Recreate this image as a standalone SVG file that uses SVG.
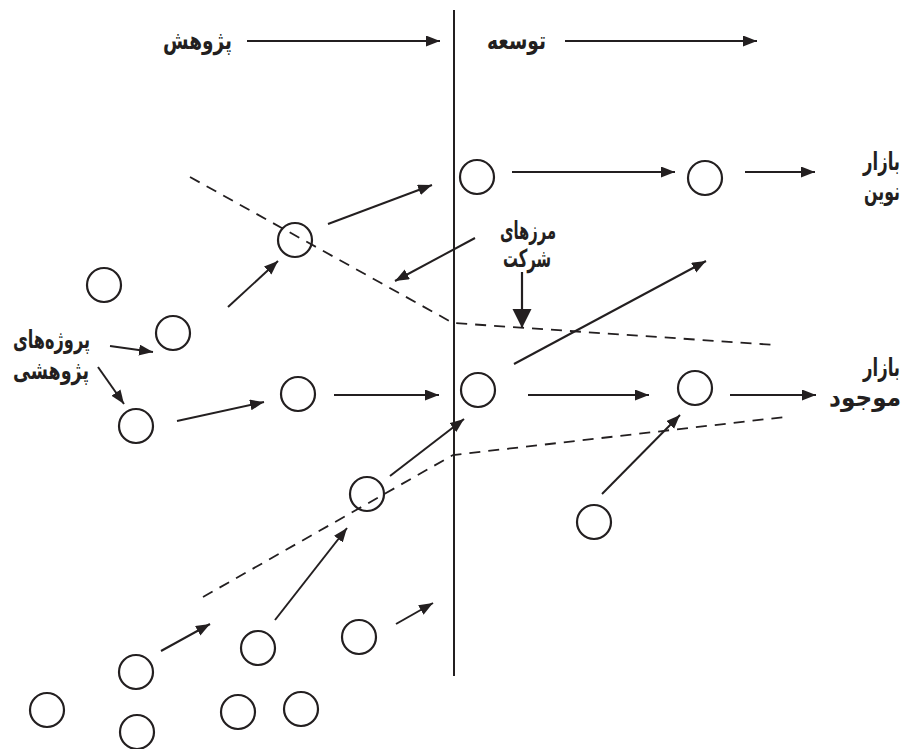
<svg xmlns="http://www.w3.org/2000/svg" width="915" height="749" viewBox="0 0 915 749">
  <style>
    .bg { fill: #ffffff; }
    .node { fill: none; stroke: #231f20; stroke-width: 2.2; }
    .arrow { fill: none; stroke: #231f20; stroke-width: 2; marker-end: url(#head); }
    .arrow-big { fill: none; stroke: #231f20; stroke-width: 2.2; marker-end: url(#head-big); }
    .rule { fill: none; stroke: #231f20; stroke-width: 2; }
    .boundary { fill: none; stroke: #231f20; stroke-width: 1.8; stroke-dasharray: 11 8; }
    .label { font-family: "DejaVu Sans", "Noto Sans", sans-serif; font-weight: bold; font-size: 25px; fill: #231f20; }
  </style>
  <defs>
    <marker id="head" markerUnits="userSpaceOnUse" markerWidth="15" markerHeight="12" refX="14" refY="5.5" orient="auto">
      <path d="M0,0 L14,5.5 L0,11 z" fill="#231f20"/>
    </marker>
    <marker id="head-big" markerUnits="userSpaceOnUse" markerWidth="20" markerHeight="20" refX="19" refY="9.5" orient="auto">
      <path d="M0,0 L19,9.5 L0,19 z" fill="#231f20"/>
    </marker>
  </defs>

  <rect class="bg" x="0" y="0" width="915" height="749"/>

  <!-- research / development divider and boundaries -->
  <g id="frame">
    <line class="rule" x1="454" y1="10" x2="454" y2="676"/>
    <polyline class="boundary" points="190,177 453,323 775,345"/>
    <polyline class="boundary" points="203,597 453,455 785,417"/>
  </g>

  <!-- labels -->
  <g id="labels" class="label">
    <text x="232" y="49" text-anchor="end" textLength="69" lengthAdjust="spacingAndGlyphs">پژوهش</text>
    <text x="546" y="49" text-anchor="end" textLength="59" lengthAdjust="spacingAndGlyphs">توسعه</text>
    <!-- market labels are condensed horizontally to fit the right margin -->
    <text transform="translate(900,170) scale(0.66,1)" x="0" y="0" text-anchor="end" textLength="56" lengthAdjust="spacingAndGlyphs">بازار</text>
    <text transform="translate(900,200) scale(0.63,1)" x="0" y="0" text-anchor="end" textLength="57" lengthAdjust="spacingAndGlyphs">نوین</text>
    <text transform="translate(900,376) scale(0.66,1)" x="0" y="0" text-anchor="end" textLength="56" lengthAdjust="spacingAndGlyphs">بازار</text>
    <text transform="translate(901,406) scale(0.91,1)" x="0" y="0" text-anchor="end" textLength="79" lengthAdjust="spacingAndGlyphs">موجود</text>
    <text x="528" y="239" text-anchor="middle" textLength="56" lengthAdjust="spacingAndGlyphs">مرزهای</text>
    <text x="527" y="267" text-anchor="middle" textLength="48" lengthAdjust="spacingAndGlyphs">شرکت</text>
    <text x="90" y="348" text-anchor="end" textLength="77" lengthAdjust="spacingAndGlyphs">پروژه‌های</text>
    <text x="89" y="379" text-anchor="end" textLength="76" lengthAdjust="spacingAndGlyphs">پژوهشی</text>
  </g>

  <!-- projects -->
  <g id="n1"><circle class="node" cx="477" cy="177" r="17"/></g>
  <g id="n2"><circle class="node" cx="705" cy="178" r="17"/></g>
  <g id="n3"><circle class="node" cx="295" cy="240" r="17"/></g>
  <g id="n4"><circle class="node" cx="104" cy="285" r="17"/></g>
  <g id="n5"><circle class="node" cx="173" cy="333" r="17"/></g>
  <g id="n6"><circle class="node" cx="136" cy="426" r="17"/></g>
  <g id="n7"><circle class="node" cx="298" cy="394" r="17"/></g>
  <g id="n8"><circle class="node" cx="478" cy="390" r="17"/></g>
  <g id="n9"><circle class="node" cx="695" cy="388" r="17"/></g>
  <g id="n10"><circle class="node" cx="367" cy="494" r="17"/></g>
  <g id="n11"><circle class="node" cx="594" cy="522" r="17"/></g>
  <g id="n12"><circle class="node" cx="136" cy="672" r="17"/></g>
  <g id="n13"><circle class="node" cx="258" cy="648" r="17"/></g>
  <g id="n14"><circle class="node" cx="359" cy="637" r="17"/></g>
  <g id="n15"><circle class="node" cx="47" cy="710" r="17"/></g>
  <g id="n16"><circle class="node" cx="137" cy="732" r="17"/></g>
  <g id="n17"><circle class="node" cx="238" cy="712" r="17"/></g>
  <g id="n18"><circle class="node" cx="301" cy="709" r="17"/></g>

  <!-- connectors -->
  <g id="connectors">
    <line class="arrow" x1="247" y1="41" x2="440" y2="41"/>
    <line class="arrow" x1="565" y1="41" x2="757" y2="41"/>
    <line class="arrow" x1="512" y1="172" x2="675" y2="172"/>
    <line class="arrow" x1="745" y1="172" x2="815" y2="172"/>
    <line class="arrow" x1="328" y1="224" x2="432" y2="185"/>
    <line class="arrow" x1="228" y1="307" x2="278" y2="261"/>
    <line class="arrow" x1="475" y1="238" x2="395" y2="281"/>
    <line class="arrow-big" x1="522" y1="272" x2="522" y2="328"/>
    <line class="arrow" x1="514" y1="364" x2="706" y2="261"/>
    <line class="arrow" x1="110" y1="346" x2="153" y2="352"/>
    <line class="arrow" x1="98" y1="367" x2="124" y2="404"/>
    <line class="arrow" x1="177" y1="421" x2="264" y2="402"/>
    <line class="arrow" x1="334" y1="395" x2="439" y2="395"/>
    <line class="arrow" x1="528" y1="395" x2="649" y2="395"/>
    <line class="arrow" x1="730" y1="395" x2="816" y2="395"/>
    <line class="arrow" x1="390" y1="476" x2="464" y2="419"/>
    <line class="arrow" x1="602" y1="494" x2="680" y2="415"/>
    <line class="arrow" x1="275" y1="620" x2="347" y2="528"/>
    <line class="arrow" x1="161" y1="651" x2="210" y2="624"/>
    <line class="arrow" x1="396" y1="624" x2="433" y2="603"/>
  </g>
</svg>
